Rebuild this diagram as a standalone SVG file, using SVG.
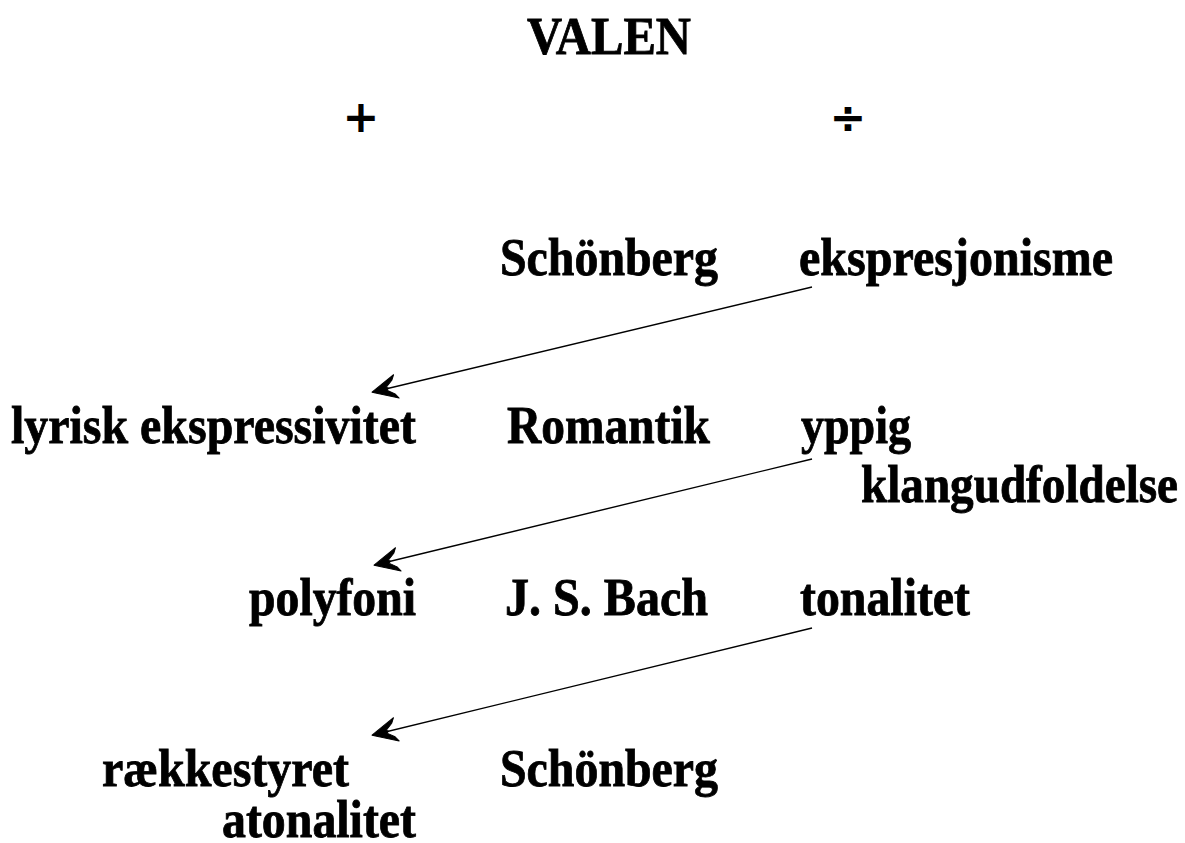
<svg xmlns="http://www.w3.org/2000/svg" width="1185" height="843" viewBox="0 0 1185 843">
  <style>
    .t { font-family: "Liberation Serif", "Times New Roman", serif; font-weight: bold; font-size: 52px; fill: #000; stroke: #000; stroke-width: 0.8; }
    .sym { font-family: "DejaVu Sans", "Liberation Sans", sans-serif; font-weight: bold; font-size: 44px; fill: #000; }
    .link { stroke: #000; stroke-width: 1.4; fill: none; marker-end: url(#head); }
  </style>
  <defs>
    <marker id="head" viewBox="-32 -15 34 30" refX="0" refY="0" markerWidth="34" markerHeight="30" markerUnits="userSpaceOnUse" orient="auto">
      <path d="M1,0 L-24,-12 L-21,-7 L-14,-1.5 L-16,0 L-14,1.5 L-21,7 L-24,12 Z" fill="#000" stroke="#000" stroke-width="1" stroke-linejoin="round"/>
    </marker>
  </defs>

  <rect width="1185" height="843" fill="#fff"/>

  <!-- title and column signs -->
  <g id="title"><text class="t" x="527" y="54" textLength="164" lengthAdjust="spacingAndGlyphs">VALEN</text></g>
  <g id="plus"><text class="sym" x="361" y="132" text-anchor="middle">+</text></g>
  <g id="minus"><text class="sym" x="848" y="133" text-anchor="middle">÷</text></g>

  <!-- row 1 -->
  <g id="schoenberg-1"><text class="t" x="500" y="275" textLength="218" lengthAdjust="spacingAndGlyphs">Schönberg</text></g>
  <g id="ekspresjonisme"><text class="t" x="799" y="275" textLength="314" lengthAdjust="spacingAndGlyphs">ekspresjonisme</text></g>

  <!-- row 2 -->
  <g id="lyrisk"><text class="t" x="11" y="443" textLength="405" lengthAdjust="spacingAndGlyphs">lyrisk ekspressivitet</text></g>
  <g id="romantik"><text class="t" x="507" y="443" textLength="203" lengthAdjust="spacingAndGlyphs">Romantik</text></g>
  <g id="yppig">
    <text class="t" x="801" y="443" textLength="110" lengthAdjust="spacingAndGlyphs">yppig</text>
    <text class="t" x="861" y="502" textLength="317" lengthAdjust="spacingAndGlyphs">klangudfoldelse</text>
  </g>

  <!-- row 3 -->
  <g id="polyfoni"><text class="t" x="249" y="615" textLength="167" lengthAdjust="spacingAndGlyphs">polyfoni</text></g>
  <g id="bach"><text class="t" x="505" y="615" textLength="203" lengthAdjust="spacingAndGlyphs">J. S. Bach</text></g>
  <g id="tonalitet"><text class="t" x="800" y="615" textLength="170" lengthAdjust="spacingAndGlyphs">tonalitet</text></g>

  <!-- row 4 -->
  <g id="raekkestyret">
    <text class="t" x="102" y="786" textLength="247" lengthAdjust="spacingAndGlyphs">rækkestyret</text>
    <text class="t" x="222" y="837" textLength="194" lengthAdjust="spacingAndGlyphs">atonalitet</text>
  </g>
  <g id="schoenberg-2"><text class="t" x="500" y="786" textLength="218" lengthAdjust="spacingAndGlyphs">Schönberg</text></g>

  <!-- connectors -->
  <g id="connectors">
    <line class="link" x1="812" y1="287" x2="373" y2="392"/>
    <line class="link" x1="812" y1="459" x2="375" y2="565"/>
    <line class="link" x1="812" y1="628" x2="373" y2="735"/>
  </g>
</svg>
